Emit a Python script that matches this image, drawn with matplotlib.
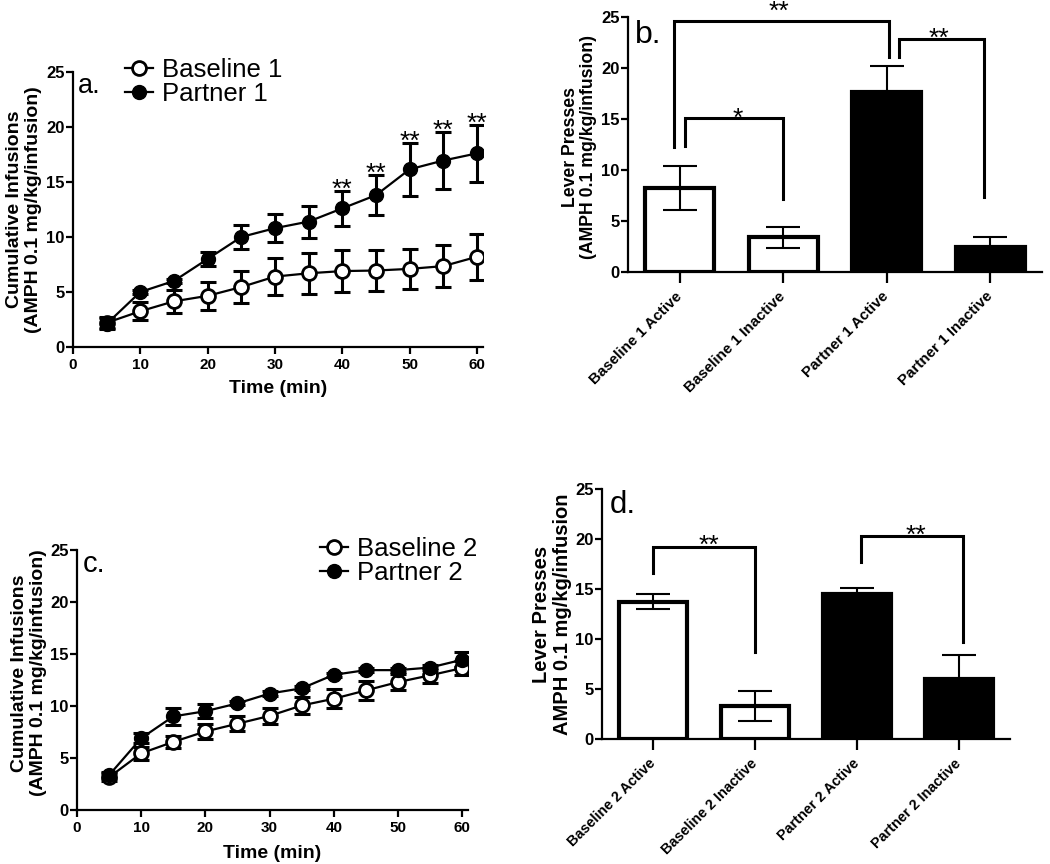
"""Four-panel figure: cumulative infusions and lever presses."""

import matplotlib

matplotlib.use("Agg")
import matplotlib.pyplot as plt
import numpy as np

plt.rcParams["font.family"] = ["Liberation Sans", "DejaVu Sans"]

# ---- data --------------------------------------------------------------
time_min = [5, 10, 15, 20, 25, 30, 35, 40, 45, 50, 55, 60]

baseline1 = [2.2, 3.25, 4.15, 4.65, 5.45, 6.4, 6.7, 6.9, 6.95, 7.1, 7.35, 8.2]
baseline1_err = [0.5, 0.8, 1.05, 1.25, 1.45, 1.7, 1.85, 1.9, 1.85, 1.85, 1.9, 2.1]
partner1 = [2.1, 5.0, 6.0, 8.0, 10.0, 10.8, 11.4, 12.6, 13.8, 16.15, 16.95, 17.6]
partner1_err = [0.5, 0.2, 0.2, 0.6, 1.1, 1.25, 1.45, 1.6, 1.8, 2.4, 2.55, 2.6]
sig_times_a = [40, 45, 50, 55, 60]

baseline2 = [3.15, 5.45, 6.55, 7.55, 8.3, 9.05, 10.05, 10.7, 11.5, 12.3, 12.95, 13.65]
baseline2_err = [0.4, 0.65, 0.6, 0.7, 0.75, 0.8, 0.85, 0.9, 0.95, 0.8, 0.7, 0.7]
partner2 = [3.35, 6.9, 9.0, 9.5, 10.25, 11.2, 11.7, 13.0, 13.45, 13.45, 13.7, 14.45]
partner2_err = [0.3, 0.5, 0.8, 0.65, 0.2, 0.2, 0.2, 0.2, 0.2, 0.2, 0.2, 0.7]

bar_labels_b = ["Baseline 1 Active", "Baseline 1 Inactive",
                "Partner 1 Active", "Partner 1 Inactive"]
bar_values_b = [8.2, 3.4, 17.65, 2.45]
bar_err_b = [2.15, 1.0, 2.5, 1.0]

bar_labels_d = ["Baseline 2 Active", "Baseline 2 Inactive",
                "Partner 2 Active", "Partner 2 Inactive"]
bar_values_d = [13.75, 3.3, 14.55, 5.95]
bar_err_d = [0.78, 1.5, 0.6, 2.45]
bar_fill = ["white", "white", "black", "black"]

# brackets: (x_left, x_right, y_top, y_left_end, y_right_end, label, star_x, star_y)
brackets_b = [
    (-0.05, 2.02, 24.6, 12.3, 21.1, "**", 0.96, 26.3),
    (0.05, 1.0, 15.1, 12.4, 7.2, "*", 0.56, 15.8),
    (2.12, 2.94, 22.8, 21.1, 7.4, "**", 2.5, 23.6),
]
brackets_d = [
    (0.0, 1.0, 19.2, 16.6, 8.7, "**", 0.55, 20.1),
    (2.04, 3.04, 20.3, 17.7, 9.7, "**", 2.58, 21.1),
]

STAR_FS = 19


def star(ax, x, y_center, label, fs=STAR_FS):
    """Place asterisks so the glyph centre sits at y_center."""
    ax.annotate(label, xy=(x, y_center), xytext=(0, -0.57 * fs),
                textcoords="offset points", ha="center", va="baseline",
                fontsize=fs, annotation_clip=False)


def style_axes(ax, xtick_len=5, xsize=11):
    for side in ["top", "right"]:
        ax.spines[side].set_visible(False)
    for side in ["left", "bottom"]:
        ax.spines[side].set_linewidth(1.6)
    ax.tick_params(axis="y", direction="out", length=5, width=1.6,
                   labelsize=12, pad=1)
    ax.tick_params(axis="x", direction="out", length=xtick_len, width=1.6,
                   labelsize=xsize, pad=3)
    for lab in ax.get_xticklabels() + ax.get_yticklabels():
        lab.set_fontweight("bold")


def line_panel(ax, base, base_err, part, part_err, names, letter, letter_pos,
               letter_fs, legend_anchor):
    ax.errorbar(time_min, base, yerr=base_err, fmt="none", ecolor="black",
                elinewidth=2.2, capsize=6, capthick=2.2, zorder=2)
    ax.errorbar(time_min, part, yerr=part_err, fmt="none", ecolor="black",
                elinewidth=2.2, capsize=6, capthick=2.2, zorder=2)
    h1, = ax.plot(time_min, base, "-o", color="black", lw=1.6, ms=10,
                  mfc="white", mec="black", mew=2, zorder=3, label=names[0])
    h2, = ax.plot(time_min, part, "-o", color="black", lw=1.6, ms=10,
                  mfc="black", mec="black", zorder=4, label=names[1])
    ax.set_xlim(0, 60.9)
    ax.set_ylim(0, 25)
    ax.set_xticks(range(0, 61, 10))
    ax.set_yticks(range(0, 26, 5))
    ax.set_xlabel("Time (min)", fontsize=14, fontweight="bold")
    ax.set_ylabel("Cumulative Infusions\n(AMPH 0.1 mg/kg/infusion)",
                  fontsize=14, fontweight="bold", linespacing=1.15)
    ax.text(letter_pos[0], letter_pos[1], letter, transform=ax.transAxes,
            fontsize=letter_fs, va="baseline")
    ax.legend(handles=[h1, h2], loc="upper left", bbox_to_anchor=legend_anchor,
              frameon=False, fontsize=18.5, handlelength=1.1,
              handletextpad=0.35, labelspacing=0.0, borderpad=0,
              borderaxespad=0)
    style_axes(ax)


def bar_panel(ax, labels, values, errs, brackets, ylabel, ylabel_fs, letter,
              letter_pos, letter_fs, xsize):
    x = np.arange(len(values))
    ax.bar(x, values, width=0.67, color=bar_fill, edgecolor="black",
           linewidth=3, zorder=2)
    ax.errorbar(x, values, yerr=errs, fmt="none", ecolor="black",
                elinewidth=1.5, capsize=12, capthick=1.5, zorder=3)
    for xl, xr, yt, yl, yr, lab, sx, sy in brackets:
        ax.plot([xl, xl, xr, xr], [yl, yt, yt, yr], color="black", lw=2.2,
                solid_joinstyle="miter", clip_on=False, zorder=4)
        star(ax, sx, sy, lab)
    ax.set_xlim(-0.5, 3.5)
    ax.set_ylim(0, 25)
    ax.set_yticks(range(0, 26, 5))
    ax.set_xticks(x)
    ax.set_xticklabels(labels, rotation=45, ha="right", va="center",
                       rotation_mode="anchor")
    ax.set_ylabel(ylabel, fontsize=ylabel_fs, fontweight="bold",
                  linespacing=1.1)
    ax.text(letter_pos[0], letter_pos[1], letter, transform=ax.transAxes,
            fontsize=letter_fs, va="baseline")
    style_axes(ax, xtick_len=8, xsize=xsize)
    ax.tick_params(axis="x", pad=8)


fig = plt.figure(figsize=(10.5, 8.64), dpi=100)

ax_a = fig.add_axes([0.0695, 0.5984, 0.3905, 0.3183])
ax_b = fig.add_axes([0.598, 0.6852, 0.3944, 0.2951])
ax_c = fig.add_axes([0.0733, 0.0625, 0.3724, 0.3009])
ax_d = fig.add_axes([0.5733, 0.1447, 0.3886, 0.2893])

line_panel(ax_a, baseline1, baseline1_err, partner1, partner1_err,
           ["Baseline 1", "Partner 1"], "a.", (0.012, 0.925), 19.5,
           (0.127, 1.052))
for t in sig_times_a:
    i = time_min.index(t)
    star(ax_a, t, partner1[i] + partner1_err[i] + 0.85, "**")

line_panel(ax_c, baseline2, baseline2_err, partner2, partner2_err,
           ["Baseline 2", "Partner 2"], "c.", (0.015, 0.917), 21,
           (0.622, 1.05))

bar_panel(ax_b, bar_labels_b, bar_values_b, bar_err_b, brackets_b,
          "Lever Presses\n(AMPH 0.1 mg/kg/infusion)", 12.7, "b.",
          (0.017, 0.9), 23, 10.9)
bar_panel(ax_d, bar_labels_d, bar_values_d, bar_err_d, brackets_d,
          "Lever Presses\nAMPH 0.1 mg/kg/infusion", 14.5, "d.",
          (0.02, 0.903), 22.5, 10.4)

ax_a.yaxis.set_label_coords(-0.076, 0.5)
ax_a.xaxis.set_label_coords(0.5, -0.12)
ax_c.yaxis.set_label_coords(-0.077, 0.527)
ax_c.xaxis.set_label_coords(0.5, -0.135)
ax_b.yaxis.set_label_coords(-0.075, 0.49)
ax_d.yaxis.set_label_coords(-0.074, 0.5)

fig.savefig("out.png", dpi=100)
